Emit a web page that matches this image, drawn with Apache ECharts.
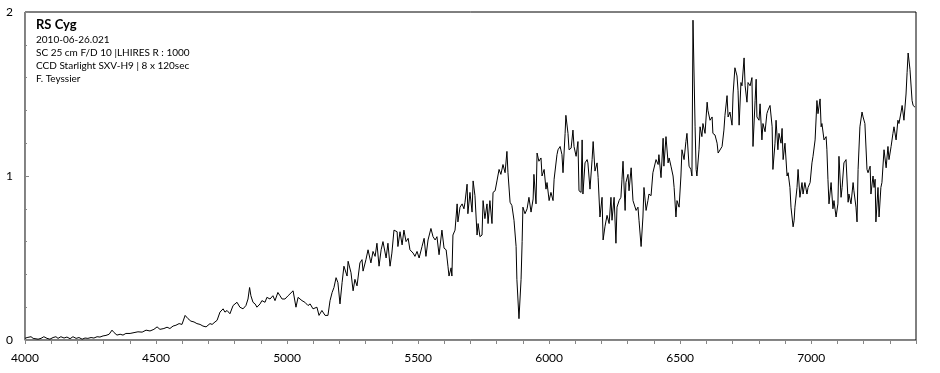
<!DOCTYPE html>
<html><head><meta charset="utf-8">
<script src="https://cdn.jsdelivr.net/npm/echarts@6/dist/echarts.min.js"></script>
<style>html,body{margin:0;padding:0;background:#fff}#c{width:940px;height:373px}</style>
</head><body><div id="c"></div>
<script>
const wavelengths = [
4000,4008,4015,4023,4031,4038,4050,4061,4072,4084,4095,4107,4118,4126,4137,4149,4160,4172,4183,4195,
4206,4218,4229,4240,4252,4263,4275,4286,4298,4309,4321,4332,4340,4351,4363,4374,4385,4401,4416,4431,
4447,4462,4477,4492,4504,4515,4530,4542,4553,4565,4576,4588,4599,4611,4622,4633,4645,4656,4668,4679,
4691,4698,4706,4714,4725,4733,4744,4756,4763,4771,4782,4794,4801,4809,4820,4832,4843,4851,4857,4862,
4870,4878,4885,4897,4904,4916,4923,4935,4946,4954,4965,4973,4981,4992,5004,5011,5023,5034,5042,5057,
5068,5080,5088,5099,5114,5122,5133,5145,5156,5164,5172,5179,5187,5194,5202,5210,5217,5229,5233,5244,
5252,5259,5267,5278,5286,5290,5301,5309,5320,5328,5336,5343,5351,5359,5366,5378,5385,5393,5400,5408,
5420,5423,5431,5439,5446,5454,5462,5469,5481,5488,5496,5504,5515,5523,5530,5538,5549,5557,5565,5572,
5580,5591,5599,5607,5614,5618,5626,5629,5633,5641,5649,5652,5660,5668,5675,5679,5687,5690,5698,5706,
5710,5717,5725,5729,5736,5744,5748,5755,5763,5767,5774,5782,5786,5794,5801,5809,5816,5824,5832,5839,
5843,5851,5858,5866,5874,5877,5885,5893,5897,5900,5908,5916,5923,5931,5939,5942,5950,5954,5961,5969,
5973,5981,5988,5992,6000,6007,6015,6019,6030,6034,6042,6049,6053,6061,6064,6072,6076,6084,6091,6095,
6103,6110,6114,6122,6126,6129,6137,6145,6148,6156,6164,6168,6175,6183,6187,6194,6202,6206,6213,6221,
6229,6236,6240,6248,6255,6259,6267,6274,6278,6282,6290,6293,6301,6305,6313,6320,6324,6332,6339,6343,
6351,6358,6362,6370,6377,6381,6389,6396,6400,6408,6416,6419,6427,6435,6438,6446,6454,6458,6465,6473,
6477,6484,6488,6496,6503,6507,6515,6522,6526,6534,6541,6545,6549,6557,6561,6564,6572,6576,6583,6587,
6595,6603,6606,6614,6622,6625,6633,6641,6645,6652,6660,6667,6671,6679,6683,6690,6698,6702,6709,6717,
6721,6725,6732,6736,6744,6748,6755,6759,6767,6774,6778,6786,6790,6793,6801,6805,6812,6816,6824,6831,
6835,6843,6851,6854,6862,6866,6873,6877,6885,6889,6893,6900,6908,6912,6919,6923,6931,6935,6938,6946,
6950,6957,6965,6969,6976,6984,6988,6996,7003,7007,7015,7022,7026,7034,7038,7041,7049,7057,7060,7064,
7068,7076,7083,7087,7095,7102,7106,7114,7118,7125,7133,7141,7144,7152,7160,7163,7171,7175,7179,7186,
7194,7198,7205,7213,7217,7225,7228,7236,7240,7244,7247,7255,7259,7266,7270,7278,7286,7293,7297,7305,
7312,7316,7324,7331,7335,7343,7347,7354,7362,7366,7370,7377,7385,7389,7396
];
const flux = [
0.01,0.015,0.005,0.02,0.01,0.015,0.005,0.01,0.02,0.01,0.005,0.015,0.02,0.01,0.02,0.012,0.018,0.008,0.02,0.01,
0.015,0.005,0.012,0.01,0.015,0.012,0.02,0.018,0.025,0.028,0.035,0.06,0.045,0.03,0.035,0.03,0.04,0.04,0.045,0.05,
0.048,0.06,0.055,0.065,0.08,0.065,0.07,0.078,0.07,0.085,0.09,0.1,0.095,0.15,0.13,0.115,0.11,0.1,0.095,0.085,
0.08,0.085,0.1,0.095,0.11,0.12,0.17,0.19,0.17,0.18,0.16,0.21,0.22,0.23,0.2,0.19,0.21,0.25,0.32,0.27,
0.23,0.22,0.2,0.22,0.24,0.23,0.26,0.25,0.27,0.24,0.29,0.27,0.25,0.25,0.27,0.26,0.3,0.2,0.26,0.24,
0.23,0.21,0.22,0.19,0.2,0.15,0.18,0.15,0.15,0.24,0.29,0.32,0.38,0.35,0.22,0.35,0.45,0.39,0.48,0.41,
0.30,0.37,0.33,0.47,0.49,0.42,0.49,0.55,0.47,0.54,0.51,0.59,0.45,0.55,0.60,0.50,0.59,0.45,0.53,0.67,
0.66,0.57,0.66,0.58,0.67,0.60,0.62,0.55,0.53,0.51,0.54,0.50,0.57,0.62,0.51,0.61,0.68,0.63,0.61,0.63,
0.52,0.67,0.56,0.55,0.45,0.39,0.44,0.39,0.64,0.67,0.83,0.72,0.81,0.83,0.80,0.84,0.95,0.77,0.90,0.78,
0.97,0.88,0.64,0.71,0.63,0.64,0.85,0.74,0.83,0.71,0.85,0.71,0.90,0.91,0.97,1.04,1.01,1.07,1.02,1.15,
1.02,0.84,0.82,0.73,0.57,0.37,0.13,0.37,0.60,0.81,0.77,0.80,0.87,0.78,0.86,1.01,0.83,1.14,1.09,1.11,
1.00,1.04,0.92,0.96,0.85,0.90,0.85,0.98,1.13,1.16,1.18,1.13,1.02,1.26,1.37,1.26,1.16,1.17,1.28,1.18,
1.12,1.21,0.91,0.90,1.22,0.89,1.08,1.10,1.08,0.92,1.10,1.21,1.03,1.08,0.99,0.75,0.87,0.61,0.69,0.76,
0.71,0.87,0.73,0.87,0.59,0.81,0.85,0.87,0.98,1.09,0.79,0.96,1.01,0.91,1.05,0.85,0.86,0.79,0.81,0.73,
0.57,0.75,0.93,0.79,0.85,0.89,0.88,1.02,1.03,1.10,1.07,1.13,0.99,1.23,1.06,1.24,1.08,1.11,1.06,1.00,
0.93,0.75,0.85,0.81,1.00,1.16,1.10,1.21,1.26,1.06,1.04,1.00,1.95,1.30,1.04,1.00,1.16,1.30,1.24,1.32,
1.26,1.45,1.40,1.34,1.36,1.26,1.25,1.20,1.14,1.13,1.18,1.28,1.37,1.49,1.36,1.39,1.31,1.50,1.66,1.61,
1.52,1.31,1.57,1.55,1.72,1.55,1.45,1.57,1.55,1.60,1.18,1.46,1.59,1.36,1.34,1.44,1.22,1.32,1.27,1.38,
1.40,1.43,1.30,1.04,1.20,1.34,1.16,1.26,1.20,1.29,1.10,1.20,1.00,1.02,0.93,0.81,0.69,0.73,0.81,0.93,
1.04,0.87,0.96,0.89,0.96,0.89,0.93,0.96,1.08,1.12,1.22,1.46,1.38,1.47,1.30,1.32,1.22,1.24,1.16,0.98,
0.83,0.96,0.80,0.85,0.75,0.83,1.12,0.87,0.93,1.08,1.10,0.84,0.89,0.83,0.96,0.91,0.81,0.72,1.04,1.30,
1.39,1.36,1.32,1.04,1.02,1.06,0.89,1.00,0.93,0.98,0.72,0.93,0.75,0.93,0.96,1.16,1.05,1.18,1.10,1.18,
1.26,1.30,1.22,1.34,1.32,1.39,1.43,1.34,1.50,1.63,1.75,1.65,1.46,1.43,1.42
];
const xTickLabels = [4000, 4500, 5000, 5500, 6000, 6500, 7000];
const yTickLabels = [0, 1, 2];
const titleText = 'RS Cyg';
const infoLines = ['2010-06-26.021', 'SC 25 cm F/D 10 |LHIRES R : 1000', 'CCD Starlight SXV-H9 | 8 x 120sec', 'F. Teyssier'];

const FONT = 'Lato, "Open Sans", sans-serif';
const chart = echarts.init(document.getElementById('c'), null, {renderer: 'canvas'});
const seriesData = wavelengths.map((w, i) => [w, flux[i]]);

const graphics = [{
  type: 'text', left: 36, top: 18,
  style: {text: titleText, font: 'bold 13px ' + FONT, fill: '#000'}
}].concat(infoLines.map((t, i) => ({
  type: 'text', left: 36, top: 35 + i * 13,
  style: {text: t, font: '10px ' + FONT, fill: '#000'}
})));

chart.setOption({
  animation: false,
  backgroundColor: '#fff',
  grid: {left: 25, right: 24, top: 12, bottom: 33, show: true, borderColor: '#000', borderWidth: 1, containLabel: false},
  xAxis: {
    type: 'value', min: 4000, max: 7400, interval: 100,
    axisLine: {show: true, onZero: false, lineStyle: {color: '#868686', width: 1}},
    axisTick: {show: true, inside: false, length: 4, lineStyle: {color: '#868686'}},
    splitLine: {show: false},
    axisLabel: {
      interval: 0, margin: 12, color: '#000', fontSize: 12, fontFamily: FONT,
      formatter: v => xTickLabels.indexOf(v) >= 0 ? String(v) : ''
    }
  },
  yAxis: {
    type: 'value', min: 0, max: 2, interval: 1,
    axisLine: {show: true, lineStyle: {color: '#868686', width: 1}},
    axisTick: {show: true, inside: true, length: 4, lineStyle: {color: '#868686'}},
    minorTick: {show: true, splitNumber: 5, length: 2, lineStyle: {color: '#868686'}},
    splitLine: {show: false},
    axisLabel: {
      margin: 12, color: '#000', fontSize: 12, fontFamily: FONT,
      formatter: v => yTickLabels.indexOf(v) >= 0 ? String(v) : ''
    }
  },
  graphic: graphics,
  series: [{
    type: 'line', data: seriesData, showSymbol: false, symbol: 'none',
    lineStyle: {color: '#000', width: 1}, itemStyle: {color: '#000'}
  }]
});
</script>
</body></html>
